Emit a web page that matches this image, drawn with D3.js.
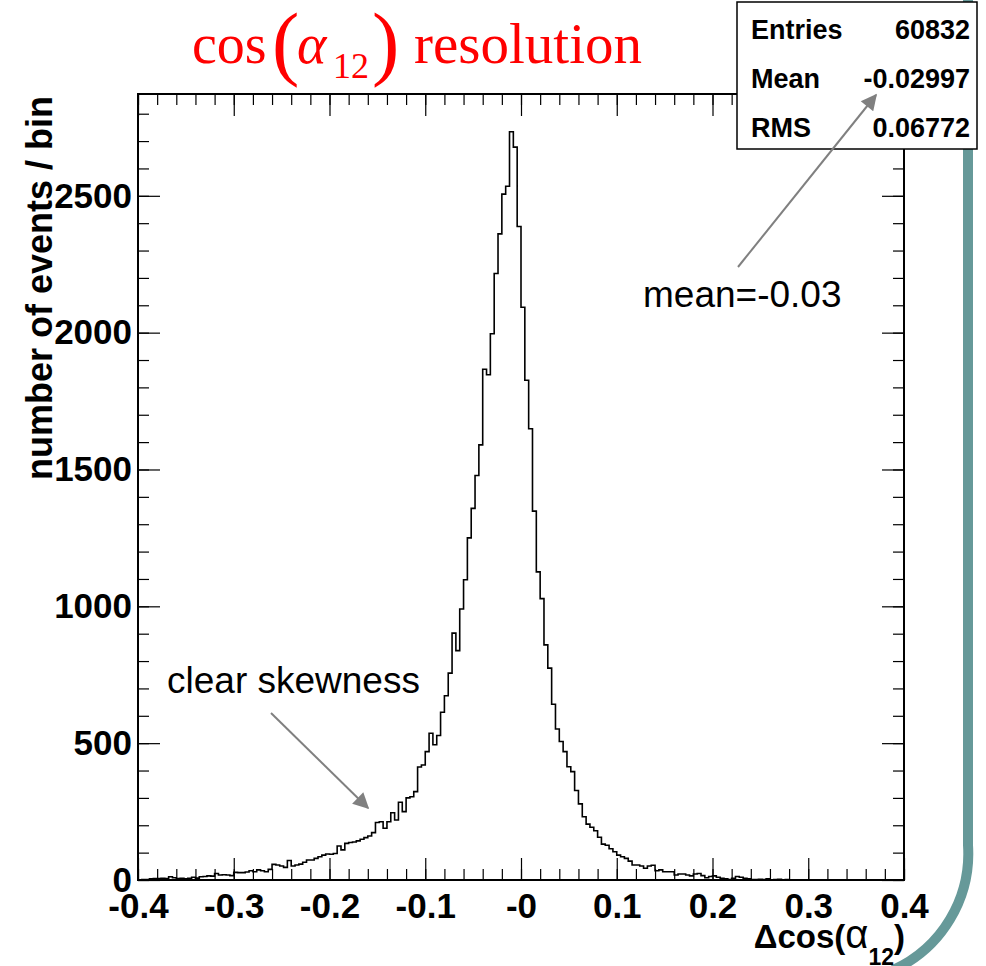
<!DOCTYPE html>
<html lang="en">
<head>
<meta charset="UTF-8">
<title>cos(alpha12) resolution</title>
<script src="https://d3js.org/d3.v7.min.js"></script>
<style>
  body { margin: 0; background: #fff; }
  svg { display: block; }
  .axis text { font-family: 'Liberation Sans', Arial, sans-serif; font-weight: bold; font-size: 35px; fill: #000; }
  .axis line { stroke: #000; stroke-width: 1.2; }
  .axis path { display: none; }
  .note { font-family: 'Liberation Sans', Arial, sans-serif; font-size: 37px; fill: #000; }
  .stats text { font-family: 'Liberation Sans', Arial, sans-serif; font-weight: bold; font-size: 27px; fill: #000; }
</style>
</head>
<body>
<script>
// 200 bins between -0.4 and 0.4, counts
var xMin = -0.4, xMax = 0.4;
var binCounts = [
  1, 2, 2, 4, 5, 5, 6, 5, 12, 8,
  5, 6, 4, 6, 10, 7, 12, 13, 15, 14,
  24, 18, 19, 18, 16, 28, 27, 27, 29, 34,
  30, 37, 34, 30, 39, 57, 55, 51, 46, 71,
  51, 55, 58, 65, 73, 73, 79, 85, 91, 95,
  94, 97, 124, 110, 134, 137, 139, 143, 149, 155,
  161, 173, 210, 213, 189, 213, 246, 219, 284, 250,
  300, 304, 323, 413, 420, 469, 536, 494, 528, 613,
  673, 756, 902, 838, 990, 1097, 1250, 1358, 1478, 1590,
  1866, 1846, 1996, 2216, 2361, 2506, 2535, 2734, 2678, 2388,
  2093, 1826, 1649, 1348, 1126, 1028, 859, 774, 642, 552,
  506, 469, 414, 396, 327, 278, 231, 204, 193, 180,
  156, 131, 127, 114, 103, 91, 85, 79, 69, 55,
  55, 51, 43, 51, 54, 34, 37, 30, 30, 30,
  18, 22, 22, 18, 15, 22, 24, 16, 8, 13,
  15, 10, 6, 4, 2, 6, 13, 10, 6, 4,
  2, 2, 3, 2, 4, 1, 2, 3, 1, 2,
  1, 0, 1, 0, 0, 1, 0, 0, 0, 1,
  0, 0, 0, 0, 1, 0, 0, 0, 0, 0,
  0, 0, 1, 0, 0, 0, 0, 0, 0, 0
];
var xTickValues = [-0.4, -0.3, -0.2, -0.1, 0, 0.1, 0.2, 0.3, 0.4];
var xTickLabels = ["-0.4", "-0.3", "-0.2", "-0.1", "-0", "0.1", "0.2", "0.3", "0.4"];
var yTickValues = [0, 500, 1000, 1500, 2000, 2500];
var yMax = 2872;
var statNames = ["Entries", "Mean", "RMS"];
var statValues = ["60832", "-0.02997", "0.06772"];

var W = 986, H = 966;
var frame = { left: 138, right: 904, top: 94, bottom: 880 };

var svg = d3.select("body").append("svg")
  .attr("width", W)
  .attr("height", H);

svg.append("rect").attr("width", W).attr("height", H).attr("fill", "#fff");

// slide decoration: teal rounded border on the right
svg.append("path")
  .attr("d", "M968,-5 V845 A128,128 0 0 1 893,970")
  .attr("fill", "none")
  .attr("stroke", "#669999")
  .attr("stroke-width", 10);

var x = d3.scaleLinear().domain([xMin, xMax]).range([frame.left, frame.right]);
var y = d3.scaleLinear().domain([0, yMax]).range([frame.bottom, frame.top]);

var binW = (xMax - xMin) / binCounts.length;
var pts = binCounts.map(function(c, i) { return [xMin + i * binW, c]; });
pts.push([xMax, binCounts[binCounts.length - 1]]);

var step = d3.line()
  .x(function(d) { return x(d[0]); })
  .y(function(d) { return y(d[1]); })
  .curve(d3.curveStepAfter);

svg.append("path")
  .attr("d", step(pts))
  .attr("fill", "none")
  .attr("stroke", "#000")
  .attr("stroke-width", 1.6);

// ticks on all four sides, pointing inwards
var xMinor = d3.range(0, 41).map(function(i) { return +(xMin + i * 0.02).toFixed(2); });
var yMinor = d3.range(0, 29).map(function(i) { return i * 100; });

function tickSet(gen, pos, major, minor, bigLen, smallLen) {
  var g = svg.append("g").attr("class", "axis").attr("transform", pos);
  g.append("g").call(gen().tickValues(minor).tickSize(smallLen).tickFormat(""));
  g.append("g").call(gen().tickValues(major).tickSize(bigLen).tickFormat(""));
}
tickSet(function() { return d3.axisTop(x); }, "translate(0," + frame.bottom + ")", xTickValues, xMinor, 22, 11);
tickSet(function() { return d3.axisBottom(x); }, "translate(0," + frame.top + ")", xTickValues, xMinor, 22, 11);
tickSet(function() { return d3.axisRight(y); }, "translate(" + frame.left + ",0)", yTickValues, yMinor, 22, 11);
tickSet(function() { return d3.axisLeft(y); }, "translate(" + frame.right + ",0)", yTickValues, yMinor, 22, 11);

// tick labels
svg.append("g").attr("class", "axis")
  .attr("transform", "translate(0," + frame.bottom + ")")
  .call(d3.axisBottom(x).tickValues(xTickValues).tickSize(0).tickPadding(13)
    .tickFormat(function(d, i) { return xTickLabels[i]; }));

svg.append("g").attr("class", "axis")
  .attr("transform", "translate(" + frame.left + ",0)")
  .call(d3.axisLeft(y).tickValues(yTickValues).tickSize(0).tickPadding(6)
    .tickFormat(d3.format("d")));

svg.selectAll(".axis text").attr("font-size", null).attr("font-family", null);

// frame
svg.append("rect")
  .attr("x", frame.left).attr("y", frame.top)
  .attr("width", frame.right - frame.left).attr("height", frame.bottom - frame.top)
  .attr("fill", "none").attr("stroke", "#000").attr("stroke-width", 2);

// axis titles
svg.append("text")
  .attr("transform", "translate(52," + (frame.top + 2) + ") rotate(-90)")
  .attr("text-anchor", "end")
  .style("font-family", "'Liberation Sans', Arial, sans-serif")
  .style("font-weight", "bold")
  .style("font-size", "36px")
  .text("number of events / bin");

var xt = svg.append("text")
  .attr("x", frame.right + 1).attr("y", 948)
  .attr("text-anchor", "end")
  .style("font-family", "'Liberation Sans', Arial, sans-serif")
  .style("font-weight", "bold")
  .style("font-size", "33px");
xt.append("tspan").text("\u0394cos(");
xt.append("tspan").style("font-weight", "normal").style("font-size", "40px").text("\u03b1");
xt.append("tspan").attr("dy", 17).style("font-size", "23px").text("12");
xt.append("tspan").attr("dy", -17).text(")");

// title
var titleFont = "'Liberation Serif', 'Times New Roman', serif";
var title = svg.append("g").attr("fill", "#ff0000").style("font-family", titleFont);
title.append("text").attr("x", 192).attr("y", 63).style("font-size", "56px").text("cos");
title.append("text").attr("x", 272).attr("y", 70).style("font-size", "82px").text("(");
title.append("text").attr("x", 297).attr("y", 63).style("font-size", "56px").style("font-style", "italic").text("\u03b1");
title.append("text").attr("x", 333).attr("y", 78).style("font-size", "36px").text("12");
title.append("text").attr("x", 372).attr("y", 70).style("font-size", "82px").text(")");
title.append("text").attr("x", 414).attr("y", 63).style("font-size", "57px").text("resolution");

svg.append("text").attr("class", "note").attr("x", 643).attr("y", 307).text("mean=-0.03");
svg.append("text").attr("class", "note").attr("x", 167).attr("y", 693).text("clear skewness");

// stats box
var box = svg.append("g").attr("class", "stats");
box.append("rect")
  .attr("x", 737).attr("y", 2).attr("width", 240).attr("height", 147)
  .attr("fill", "#fff").attr("stroke", "#000").attr("stroke-width", 1.5);
statNames.forEach(function(n, i) {
  var by = 39 + i * 49;
  box.append("text").attr("x", 751).attr("y", by).text(n);
  box.append("text").attr("x", 970).attr("y", by).attr("text-anchor", "end").text(statValues[i]);
});

// annotation arrows, drawn over the stats box
var defs = svg.append("defs");
defs.append("marker")
  .attr("id", "head")
  .attr("viewBox", "0 0 10 10")
  .attr("refX", 9).attr("refY", 5)
  .attr("markerWidth", 9).attr("markerHeight", 8)
  .attr("markerUnits", "strokeWidth")
  .attr("orient", "auto")
  .append("path").attr("d", "M0,0 L10,5 L0,10 Z").attr("fill", "#808080");

function arrow(x1, y1, x2, y2) {
  svg.append("line")
    .attr("x1", x1).attr("y1", y1).attr("x2", x2).attr("y2", y2)
    .attr("stroke", "#808080").attr("stroke-width", 2)
    .attr("marker-end", "url(#head)");
}
arrow(738, 267, 876, 95);
arrow(271, 713, 368, 808);
</script>
</body>
</html>
